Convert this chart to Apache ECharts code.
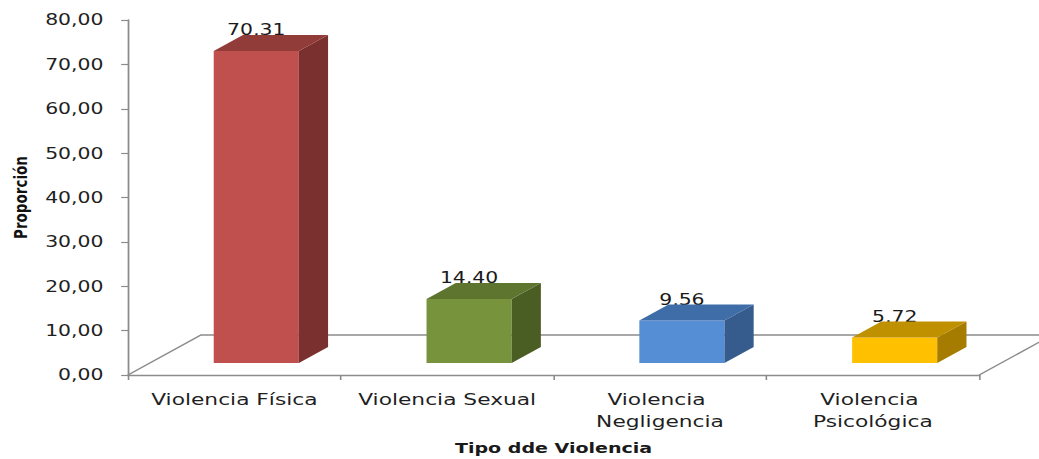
<!DOCTYPE html>
<html>
<head>
<meta charset="utf-8">
<script src="https://cdn.jsdelivr.net/npm/echarts@6/dist/echarts.min.js"></script>
<style>
  html, body { margin: 0; padding: 0; background: #ffffff; overflow: hidden; }
  #wrap { width: 1039px; height: 459px; overflow: hidden; }
  #chart { width: 764px; height: 459px; transform: scaleX(1.36); transform-origin: 0 0; }
</style>
</head>
<body>
<div id="wrap"><div id="chart"></div></div>
<script>
// ---- data ----
var categories = ['Violencia Física', 'Violencia Sexual', 'Violencia Negligencia', 'Violencia Psicológica'];
var values = [70.31, 14.40, 9.56, 5.72];
var yTicks = [0, 10, 20, 30, 40, 50, 60, 70, 80];
var axisTitleX = 'Tipo dde Violencia';
var axisTitleY = 'Proporción';

// ---- style ----
var FRONT = ['#C0504D', '#77933C', '#558ED5', '#FFC000'];
var TOP   = ['#923C39', '#5E7530', '#3F6DA8', '#BF9000'];
var SIDE  = ['#7A302E', '#4A5E24', '#355C8C', '#A67C00'];
var DX = 53.7, DY = -40;          // floor depth vector (px)
var F0 = 0.3, F1 = 0.7;           // bar depth range (fraction of floor depth)
var FONT = 'DejaVu Sans';

function fmt(v) { return v.toFixed(2).replace('.', ','); }

var chart = echarts.init(document.getElementById('chart'), null, { renderer: 'svg' });

var option = {
  animation: false,
  backgroundColor: '#ffffff',
  grid: { left: 94.1, right: 44, top: 20, bottom: 84, containLabel: false, outerBoundsMode: 'none' },
  xAxis: {
    type: 'category',
    data: categories,
    boundaryGap: true,
    name: axisTitleX,
    nameLocation: 'middle',
    nameGap: 66,
    nameTextStyle: { fontFamily: FONT, fontWeight: 'bold', fontSize: 14, color: '#1a1a1a' },
    axisLine: { lineStyle: { color: '#8c8c8c', width: 1.3 } },
    axisTick: { show: true, length: 5, lineStyle: { color: '#8c8c8c', width: 1.2 } },
    axisLabel: {
      interval: 0, hideOverlap: false,
      fontFamily: FONT, fontSize: 16, color: '#1f1f1f', margin: 14,
      width: 145, overflow: 'break', lineHeight: 22
    },
    splitLine: { show: false }
  },
  yAxis: {
    type: 'value',
    min: yTicks[0],
    max: yTicks[yTicks.length - 1],
    interval: yTicks[1] - yTicks[0],
    name: axisTitleY,
    nameLocation: 'middle',
    nameGap: 66,
    nameRotate: 90,
    nameTextStyle: { fontFamily: FONT, fontWeight: 'bold', fontSize: 13.5, color: '#111111' },
    axisLine: { show: true, lineStyle: { color: '#8c8c8c', width: 1.3 } },
    axisTick: { show: true, length: 5, lineStyle: { color: '#8c8c8c', width: 1.2 } },
    axisLabel: { fontFamily: FONT, fontSize: 15, color: '#1f1f1f', margin: 18, formatter: fmt },
    splitLine: { show: false }
  },
  series: [
    {
      type: 'custom',
      name: 'floor',
      silent: true,
      z: 1,
      data: [[0, 0]],
      renderItem: function (params, api) {
        var half = api.size([1, 0])[0] / 2;
        var p0 = api.coord([0, 0]);
        var p1 = api.coord([categories.length - 1, 0]);
        var x0 = p0[0] - half, x1 = p1[0] + half, y0 = p0[1];
        return {
          type: 'polyline',
          shape: { points: [[x0, y0], [x0 + DX, y0 + DY], [x1 + DX, y0 + DY], [x1, y0]] },
          style: { stroke: '#8c8c8c', lineWidth: 1.3, fill: null }
        };
      }
    },
    {
      type: 'custom',
      name: 'Proporción',
      z: 5,
      data: values.map(function (v, i) { return [i, v]; }),
      renderItem: function (params, api) {
        var i = api.value(0), v = api.value(1);
        var top = api.coord([i, v]);
        var base = api.coord([i, 0]);
        var bw = api.size([1, 0])[0] * 0.4;
        var ox = DX * F0, oy = DY * F0;
        var dx = DX * (F1 - F0), dy = DY * (F1 - F0);
        var xl = top[0] - bw / 2 + ox, xr = top[0] + bw / 2 + ox;
        var yt = top[1] + oy, yb = base[1] + oy;
        return {
          type: 'group',
          children: [
            {
              type: 'text',
              style: {
                text: fmt(v), x: (xl + xr) / 2, y: yt + dy + 2,
                align: 'center', verticalAlign: 'bottom',
                fontFamily: FONT, fontSize: 15, fill: '#1a1a1a'
              }
            },
            {
              type: 'polygon',
              shape: { points: [[xl, yb], [xr, yb], [xr, yt], [xl, yt]] },
              style: { fill: FRONT[i] }
            },
            {
              type: 'polygon',
              shape: { points: [[xr, yb], [xr + dx, yb + dy], [xr + dx, yt + dy], [xr, yt]] },
              style: { fill: SIDE[i] }
            },
            {
              type: 'polygon',
              shape: { points: [[xl, yt], [xr, yt], [xr + dx, yt + dy], [xl + dx, yt + dy]] },
              style: { fill: TOP[i] }
            }
          ]
        };
      }
    }
  ]
};
chart.setOption(option);
</script>
</body>
</html>
